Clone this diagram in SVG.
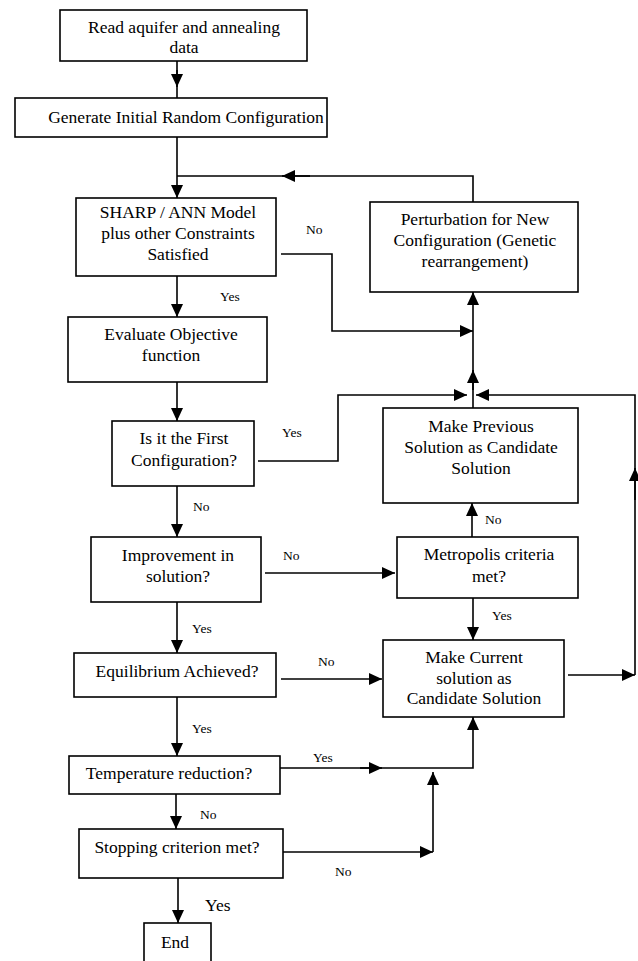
<svg xmlns="http://www.w3.org/2000/svg" width="638" height="961" viewBox="0 0 638 961">
<style>
.box{fill:#fff;stroke:#000;stroke-width:1.6}
.t{font-family:"Liberation Serif","Times New Roman",serif;font-size:17.5px;fill:#000;text-anchor:middle}
.l{font-family:"Liberation Serif","Times New Roman",serif;font-size:13.5px;fill:#000}
.c{fill:none;stroke:#000;stroke-width:1.6}
.a{fill:none;stroke:#000;stroke-width:1.6;marker-end:url(#ah)}
</style>
<defs>
<marker id="ah" viewBox="0 0 13 12" refX="13" refY="6" markerWidth="13" markerHeight="12" markerUnits="userSpaceOnUse" orient="auto">
<path d="M0,0 L13,6 L0,12 z" fill="#000"/>
</marker>
</defs>
<rect width="638" height="961" fill="#fff"/>
<g id="connectors">
<line class="c" x1="177" y1="61" x2="177" y2="98"/>
<line class="a" x1="177" y1="70" x2="177" y2="87"/>
<line class="a" x1="177" y1="137" x2="177" y2="198"/>
<polyline class="c" points="473,202 473,176 177,176"/>
<line class="a" x1="310" y1="176" x2="282" y2="176"/>
<polyline class="a" points="281,254 332,254 332,331 473,331"/>
<line class="a" x1="473" y1="408" x2="473" y2="292"/>
<line class="a" x1="473" y1="390" x2="473" y2="370"/>
<polyline class="a" points="258,461 338,461 338,395 467,395"/>
<line class="a" x1="568" y1="675" x2="635" y2="675"/>
<polyline class="a" points="635,675 635,395 476,395"/>
<line class="a" x1="635" y1="500" x2="635" y2="468"/>
<line class="a" x1="177" y1="276" x2="177" y2="317"/>
<line class="a" x1="177" y1="382" x2="177" y2="421"/>
<line class="a" x1="177" y1="486" x2="177" y2="537"/>
<line class="a" x1="265" y1="573" x2="395" y2="573"/>
<line class="a" x1="472" y1="537" x2="472" y2="503"/>
<line class="a" x1="473" y1="598" x2="473" y2="640"/>
<line class="a" x1="177" y1="602" x2="177" y2="653"/>
<line class="a" x1="281" y1="679" x2="382" y2="679"/>
<line class="a" x1="177" y1="697" x2="177" y2="756"/>
<polyline class="a" points="280,768 473,768 473,717"/>
<line class="a" x1="360" y1="768" x2="382" y2="768"/>
<line class="a" x1="176" y1="794" x2="176" y2="829"/>
<line class="a" x1="283" y1="852" x2="433" y2="852"/>
<line class="a" x1="433" y1="852" x2="433" y2="772"/>
<line class="a" x1="178" y1="878" x2="178" y2="923"/>
</g>
<g id="labels">
<text class="l" x="306" y="234">No</text>
<text class="l" x="220" y="301">Yes</text>
<text class="l" x="282" y="437">Yes</text>
<text class="l" x="193" y="511">No</text>
<text class="l" x="283" y="560">No</text>
<text class="l" x="485" y="524">No</text>
<text class="l" x="492" y="620">Yes</text>
<text class="l" x="192" y="633">Yes</text>
<text class="l" x="318" y="666">No</text>
<text class="l" x="192" y="733">Yes</text>
<text class="l" x="313" y="762">Yes</text>
<text class="l" x="200" y="819">No</text>
<text class="l" x="335" y="876">No</text>
<text class="l" x="205" y="911" style="font-size:17.5px">Yes</text>
</g>
<g id="n1">
<rect class="box" x="60" y="10" width="247" height="51"/>
<text class="t" x="184" y="33">Read aquifer and annealing</text>
<text class="t" x="184" y="53">data</text>
</g>
<g id="n2">
<rect class="box" x="15" y="98" width="312" height="39"/>
<text class="t" x="186" y="123">Generate Initial Random Configuration</text>
</g>
<g id="n3">
<rect class="box" x="76" y="198" width="200" height="78"/>
<text class="t" x="178" y="218">SHARP / ANN Model</text>
<text class="t" x="178" y="239">plus other Constraints</text>
<text class="t" x="178" y="260">Satisfied</text>
</g>
<g id="n4">
<rect class="box" x="68" y="317" width="199" height="65"/>
<text class="t" x="171" y="340">Evaluate Objective</text>
<text class="t" x="171" y="361">function</text>
</g>
<g id="n5">
<rect class="box" x="112" y="421" width="142" height="65"/>
<text class="t" x="184" y="444">Is it the First</text>
<text class="t" x="184" y="466">Configuration?</text>
</g>
<g id="n6">
<rect class="box" x="91" y="537" width="170" height="65"/>
<text class="t" x="178" y="561">Improvement in</text>
<text class="t" x="178" y="582">solution?</text>
</g>
<g id="n7">
<rect class="box" x="74" y="653" width="202" height="44"/>
<text class="t" x="177" y="677">Equilibrium Achieved?</text>
</g>
<g id="n8">
<rect class="box" x="69" y="756" width="211" height="38"/>
<text class="t" x="169" y="779">Temperature reduction?</text>
</g>
<g id="n9">
<rect class="box" x="79" y="829" width="204" height="49"/>
<text class="t" x="177" y="853">Stopping criterion met?</text>
</g>
<g id="n10">
<rect class="box" x="144" y="923" width="67" height="45"/>
<text class="t" x="175" y="948">End</text>
</g>
<g id="n11">
<rect class="box" x="370" y="202" width="208" height="90"/>
<text class="t" x="475" y="225">Perturbation for New</text>
<text class="t" x="475" y="246">Configuration (Genetic</text>
<text class="t" x="475" y="267">rearrangement)</text>
</g>
<g id="n12">
<rect class="box" x="383" y="408" width="195" height="95"/>
<text class="t" x="481" y="432">Make Previous</text>
<text class="t" x="481" y="453">Solution as Candidate</text>
<text class="t" x="481" y="474">Solution</text>
</g>
<g id="n13">
<rect class="box" x="397" y="537" width="181" height="61"/>
<text class="t" x="489" y="560">Metropolis criteria</text>
<text class="t" x="489" y="582">met?</text>
</g>
<g id="n14">
<rect class="box" x="383" y="640" width="181" height="77"/>
<text class="t" x="474" y="663">Make Current</text>
<text class="t" x="474" y="684">solution as</text>
<text class="t" x="474" y="704">Candidate Solution</text>
</g>
</svg>
